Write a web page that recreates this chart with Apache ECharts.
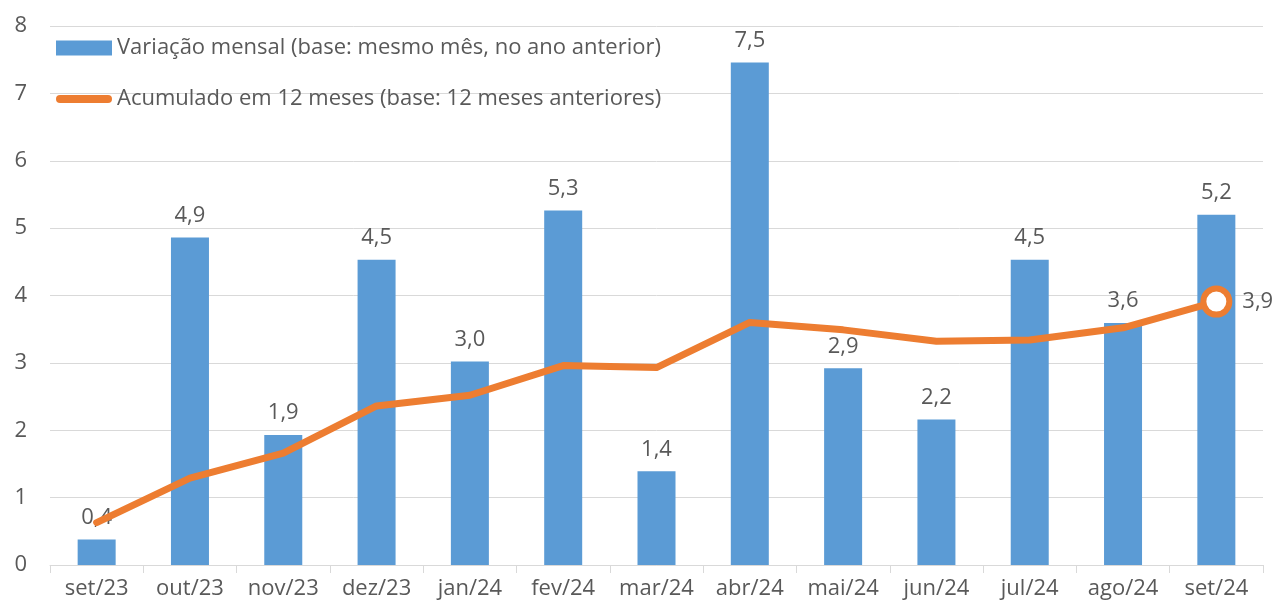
<!DOCTYPE html>
<html><head><meta charset="utf-8">
<script src="https://cdn.jsdelivr.net/npm/echarts@6/dist/echarts.min.js"></script>
<style>html,body{margin:0;padding:0;background:#fff}#c{width:1284px;height:611px}</style>
</head><body><div id="c"></div>
<script>
const categories = ['set/23','out/23','nov/23','dez/23','jan/24','fev/24','mar/24','abr/24','mai/24','jun/24','jul/24','ago/24','set/24'];
const monthly = [0.38, 4.86, 1.93, 4.53, 3.02, 5.26, 1.39, 7.46, 2.92, 2.16, 4.53, 3.59, 5.2];
const accumulated = [0.63, 1.29, 1.66, 2.36, 2.52, 2.96, 2.93, 3.60, 3.49, 3.32, 3.34, 3.52, 3.91];
const yTicks = [0,1,2,3,4,5,6,7,8];
const seriesNames = ['Variação mensal (base: mesmo mês, no ano anterior)', 'Acumulado em 12 meses (base: 12 meses anteriores)'];

const FONT = 'Open Sans';
const FS = 22;
const GRAY = '#595959';
const fmt = v => v.toFixed(1).replace('.', ',');
const last = accumulated.length - 1;
const lineData = accumulated.map((v, i) => i === last ? {
  value: v, symbol: 'circle', symbolSize: 26,
  itemStyle: {color: '#fff', borderColor: '#ED7D31', borderWidth: 6},
  label: {show: true, position: 'right', distance: 10, formatter: p => fmt(p.value), color: GRAY, fontFamily: FONT, fontSize: FS}
} : {value: v, symbol: 'none'});

const chart = echarts.init(document.getElementById('c'), null, {renderer: 'canvas'});
chart.setOption({
  animation: false,
  textStyle: {fontFamily: FONT},
  grid: {left: 50, right: 21, top: 26, bottom: 46},
  legend: {
    orient: 'vertical', left: 51, top: 31, itemWidth: 56, itemHeight: 15, itemGap: 27,
    textStyle: {color: GRAY, fontFamily: FONT, fontSize: FS, lineHeight: 24},
    data: [
      {name: seriesNames[0], icon: 'rect'},
      {name: seriesNames[1], icon: 'path://M4,0 L52,0 A4,4 0 0 1 52,8 L4,8 A4,4 0 0 1 4,0 Z', itemStyle: {color: '#ED7D31'}}
    ]
  },
  xAxis: {
    type: 'category', data: categories,
    axisLine: {lineStyle: {color: '#d9d9d9', width: 1}},
    axisTick: {show: true, alignWithLabel: false, length: 8, lineStyle: {color: '#d9d9d9'}},
    axisLabel: {color: GRAY, fontFamily: FONT, fontSize: FS, margin: 13, interval: 0, hideOverlap: false}
  },
  yAxis: {
    type: 'value', min: yTicks[0], max: yTicks[yTicks.length-1], interval: 1,
    axisLine: {show: false}, axisTick: {show: false},
    splitLine: {lineStyle: {color: '#d9d9d9', width: 1}},
    axisLabel: {color: GRAY, fontFamily: FONT, fontSize: FS, margin: 23}
  },
  series: [
    {
      name: seriesNames[0], type: 'bar', data: monthly, barWidth: 38,
      itemStyle: {color: '#5B9BD5'},
      label: {show: true, position: 'top', distance: 11, color: GRAY, fontFamily: FONT, fontSize: FS, formatter: p => fmt(p.value)}
    },
    {
      name: seriesNames[1], type: 'line', data: lineData, symbol: 'none', showSymbol: true,
      lineStyle: {color: '#ED7D31', width: 7, cap: 'round', join: 'round'},
      itemStyle: {color: '#ED7D31'}, z: 5
    }
  ]
});
</script></body></html>
